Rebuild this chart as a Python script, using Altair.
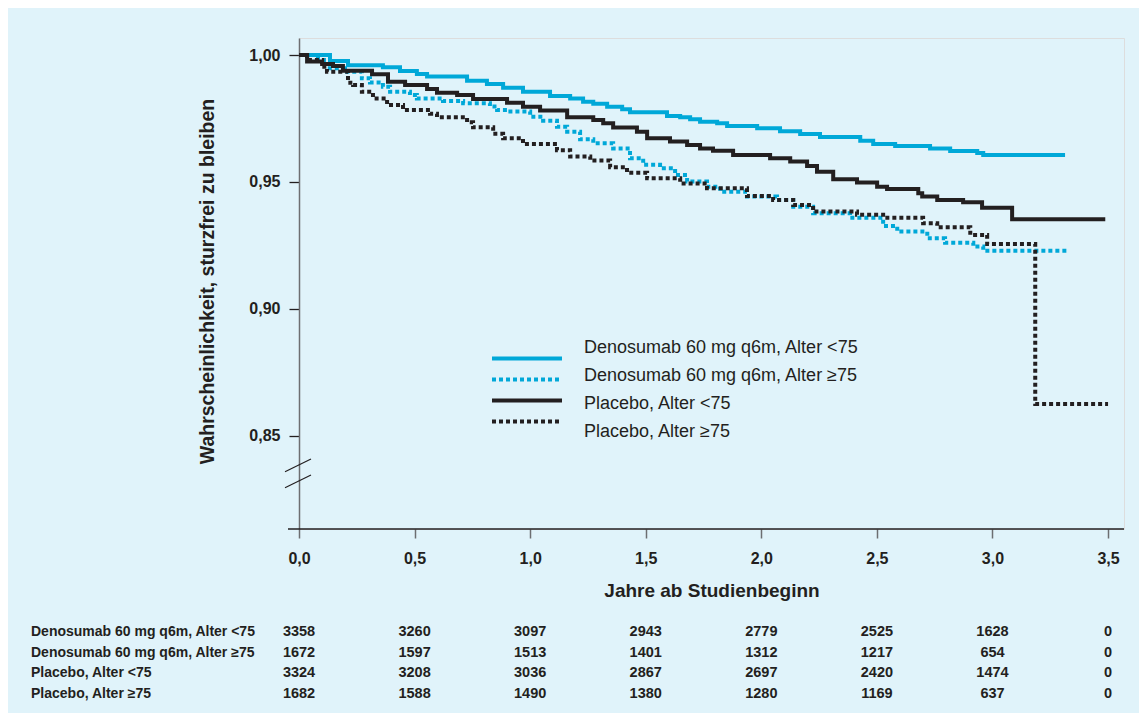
import altair as alt
import pandas as pd

FONT = "Liberation Sans, Arial, sans-serif"
INK = "#231f20"
CYAN = "#00a8d8"
BG = "#e0f3fa"

groups = ["Denosumab 60 mg q6m, Alter <75", "Denosumab 60 mg q6m, Alter \u226575",
          "Placebo, Alter <75", "Placebo, Alter \u226575"]
colors = [CYAN, CYAN, INK, INK]
dashes = [[1, 0], [4, 3], [1, 0], [4, 3]]

den_lt_t = [0, 0.134, 0.212, 0.363, 0.437, 0.51, 0.554, 0.727, 0.813, 0.883, 0.969, 1.086, 1.173, 1.229,
            1.273, 1.333, 1.398, 1.432, 1.592, 1.649, 1.692, 1.735, 1.809, 1.852, 1.982, 2.081, 2.168, 2.254,
            2.428, 2.484, 2.579, 2.73, 2.817, 2.934, 2.96, 3.314]
den_lt_s = [1.0, 0.9976, 0.996, 0.9952, 0.9937, 0.9925, 0.9915, 0.9899, 0.9886, 0.9871, 0.9855, 0.9838, 0.9829,
            0.9816, 0.9808, 0.9796, 0.9786, 0.9774, 0.976, 0.9755, 0.9747, 0.9737, 0.9731, 0.972, 0.9711, 0.970,
            0.9689, 0.9677, 0.9662, 0.9649, 0.9641, 0.9632, 0.9622, 0.9614, 0.9606, 0.9606]

den_ge_t = [0, 0.082, 0.121, 0.199, 0.272, 0.307, 0.363, 0.394, 0.48, 0.51, 0.623, 0.71, 0.826, 0.857, 0.9,
            1.0, 1.056, 1.116, 1.16, 1.216, 1.273, 1.359, 1.432, 1.489, 1.562, 1.627, 1.679, 1.765, 1.822, 1.938,
            2.068, 2.138, 2.224, 2.384, 2.527, 2.588, 2.718, 2.795, 2.917, 2.96, 3.33]
den_ge_s = [1.0, 0.998, 0.9948, 0.9934, 0.9908, 0.9892, 0.9875, 0.9855, 0.9842, 0.9829, 0.9819, 0.981, 0.9797,
            0.9783, 0.9777, 0.9757, 0.9741, 0.9717, 0.9698, 0.9668, 0.9652, 0.9632, 0.9593, 0.9567, 0.9554,
            0.9527, 0.9501, 0.9481, 0.9461, 0.9442, 0.9429, 0.9402, 0.9376, 0.9359, 0.9326, 0.9304, 0.9278,
            0.926, 0.9245, 0.9229, 0.9229]

pla_lt_t = [0, 0.035, 0.1, 0.147, 0.19, 0.316, 0.385, 0.459, 0.554, 0.597, 0.684, 0.753, 0.9, 0.969, 1.043,
            1.16, 1.273, 1.316, 1.359, 1.462, 1.506, 1.605, 1.679, 1.735, 1.791, 1.878, 2.038, 2.125, 2.198,
            2.241, 2.311, 2.414, 2.501, 2.544, 2.679, 2.696, 2.761, 2.873, 2.955, 3.085, 3.488]
pla_lt_s = [1.0, 0.9974, 0.9965, 0.9957, 0.9938, 0.9924, 0.9895, 0.9882, 0.9866, 0.9851, 0.9842, 0.9827,
            0.9812, 0.9796, 0.9781, 0.9755, 0.9744, 0.9731, 0.9714, 0.9698, 0.9672, 0.9659, 0.9645, 0.9632,
            0.9623, 0.9606, 0.9593, 0.958, 0.9563, 0.954, 0.951, 0.9498, 0.9481, 0.9472, 0.9455, 0.9442,
            0.9429, 0.942, 0.9398, 0.9353, 0.9353]

pla_ge_t = [0, 0.035, 0.1, 0.121, 0.212, 0.234, 0.272, 0.32, 0.381, 0.45, 0.567, 0.597, 0.727, 0.753, 0.84,
            0.883, 0.969, 1.116, 1.173, 1.26, 1.346, 1.419, 1.506, 1.649, 1.765, 1.938, 2.051, 2.138, 2.224,
            2.414, 2.527, 2.7, 2.761, 2.904, 2.977, 3.185, 3.5]
pla_ge_s = [1.0, 0.998, 0.9954, 0.9934, 0.9891, 0.9882, 0.9855, 0.9829, 0.9803, 0.9783, 0.9768, 0.9755,
            0.9735, 0.9715, 0.969, 0.9672, 0.9649, 0.9625, 0.96, 0.9584, 0.9558, 0.9536, 0.9514, 0.9494,
            0.9475, 0.9444, 0.9429, 0.9409, 0.9383, 0.937, 0.9359, 0.9337, 0.9321, 0.9291, 0.9255, 0.8625,
            0.8625]

risk_times = [0, 0.5, 1.0, 1.5, 2.0, 2.5, 3.0, 3.5]
den_lt_n = [3358, 3260, 3097, 2943, 2779, 2525, 1628, 0]
den_ge_n = [1672, 1597, 1513, 1401, 1312, 1217, 654, 0]
pla_lt_n = [3324, 3208, 3036, 2867, 2697, 2420, 1474, 0]
pla_ge_n = [1682, 1588, 1490, 1380, 1280, 1169, 637, 0]

x_ticks = [0, 0.5, 1.0, 1.5, 2.0, 2.5, 3.0, 3.5]
y_ticks = [0.85, 0.90, 0.95, 1.00]

W, H = 825, 491
x_dom = [0, 3.569]
y_dom = [0.8132, 1.0067]

series = [(den_lt_t, den_lt_s), (den_ge_t, den_ge_s), (pla_lt_t, pla_lt_s), (pla_ge_t, pla_ge_s)]
rows = []
for i, (g, (ts, ss)) in enumerate(zip(groups, series)):
    for t, s in zip(ts, ss):
        rows.append({"group": g, "t": t, "s": s, "ord": i})
curves = pd.DataFrame(rows)

counts = [den_lt_n, den_ge_n, pla_lt_n, pla_ge_n]
trows = []
for g, ns in zip(groups, counts):
    for t, n in zip(risk_times, ns):
        trows.append({"group": g, "t": t, "n": n})
table = pd.DataFrame(trows)
legend_df = pd.DataFrame({"group": groups})

xscale = alt.Scale(domain=x_dom, nice=False, zero=False)
yscale = alt.Scale(domain=y_dom, nice=False, zero=False)
color_scale = alt.Scale(domain=groups, range=colors)
dash_scale = alt.Scale(domain=groups, range=dashes)

lines = alt.Chart(curves).mark_line(interpolate="step-after", strokeWidth=4, strokeCap="butt").encode(
    x=alt.X("t:Q", scale=xscale, axis=alt.Axis(
        values=x_ticks, labelExpr="replace(format(datum.value, '.1f'), '.', ',')",
        domain=False, grid=False, tickSize=9, tickColor="#6d6e71", tickWidth=1.5,
        labelPadding=12, labelFontSize=16, labelFontWeight="bold", labelColor=INK,
        labelFlush=False, labelOverlap=False,
        title="Jahre ab Studienbeginn", titleY=61, titleBaseline="middle",
        titleFontSize=19, titleFontWeight="bold", titleColor=INK)),
    y=alt.Y("s:Q", scale=yscale, axis=alt.Axis(
        values=y_ticks, labelExpr="replace(format(datum.value, '.2f'), '.', ',')",
        grid=False, tickSize=10, tickColor=INK, tickWidth=1.3,
        domainColor="#6d6e71", domainWidth=1.5, labelPadding=9,
        labelFontSize=16, labelFontWeight="bold", labelColor=INK, labelFlush=False, labelOverlap=False,
        title="Wahrscheinlichkeit, sturzfrei zu bleiben", titleX=-92, titleY=243, titleAngle=270,
        titleAlign="center", titleBaseline="middle", titleFontSize=19.5, titleFontWeight="bold",
        titleColor=INK)),
    color=alt.Color("group:N", scale=color_scale, legend=None),
    strokeDash=alt.StrokeDash("group:N", scale=dash_scale, legend=None),
    detail="group:N",
    order="ord:Q",
)

xaxis_line = alt.Chart(legend_df.head(1)).mark_rule(color=INK, strokeWidth=1.5).encode(
    x=alt.value(-11), x2=alt.value(W), y=alt.value(H))

brk1 = alt.Chart(legend_df.head(1)).mark_rule(color=INK, strokeWidth=1.2).encode(
    x=alt.value(-14), x2=alt.value(12), y=alt.value(433.7), y2=alt.value(421))
brk2 = alt.Chart(legend_df.head(1)).mark_rule(color=INK, strokeWidth=1.2).encode(
    x=alt.value(-14), x2=alt.value(12), y=alt.value(449.7), y2=alt.value(437))

leg_y = alt.Y("group:N", scale=alt.Scale(domain=groups, range=[310, 394], padding=0), axis=None)
leg_sym = alt.Chart(legend_df).mark_rule(strokeWidth=4).encode(
    x=alt.value(193), x2=alt.value(263), y=leg_y,
    color=alt.Color("group:N", scale=color_scale, legend=None),
    strokeDash=alt.StrokeDash("group:N", scale=dash_scale, legend=None))
leg_txt = alt.Chart(legend_df).mark_text(align="left", baseline="middle", fontSize=18, font=FONT,
                                         color=INK).encode(
    x=alt.value(285), y=leg_y, text="group:N")

tab_y = alt.Y("group:N", scale=alt.Scale(domain=groups, range=[594, 656], padding=0), axis=None)
tab_lab = alt.Chart(legend_df).mark_text(align="left", baseline="middle", fontSize=14, font=FONT,
                                         fontWeight="bold", color=INK).encode(
    x=alt.value(-268), y=tab_y, text="group:N")
tab_num = alt.Chart(table).mark_text(align="center", baseline="middle", fontSize=14.5, font=FONT,
                                     fontWeight="bold", color=INK).encode(
    x=alt.X("t:Q", scale=xscale), y=tab_y, text=alt.Text("n:Q", format="d"))

chart = alt.layer(lines, xaxis_line, brk1, brk2, leg_sym, leg_txt, tab_lab, tab_num).resolve_scale(
    y="independent"
).properties(
    width=W, height=H,
    padding={"left": 291, "top": 30, "right": 15, "bottom": 184},
    autosize=alt.AutoSizeParams(type="none"),
    background=BG,
).configure_view(stroke=None).configure(font=FONT)

chart.save("out.html", embed_options={"renderer": "svg", "actions": False})
